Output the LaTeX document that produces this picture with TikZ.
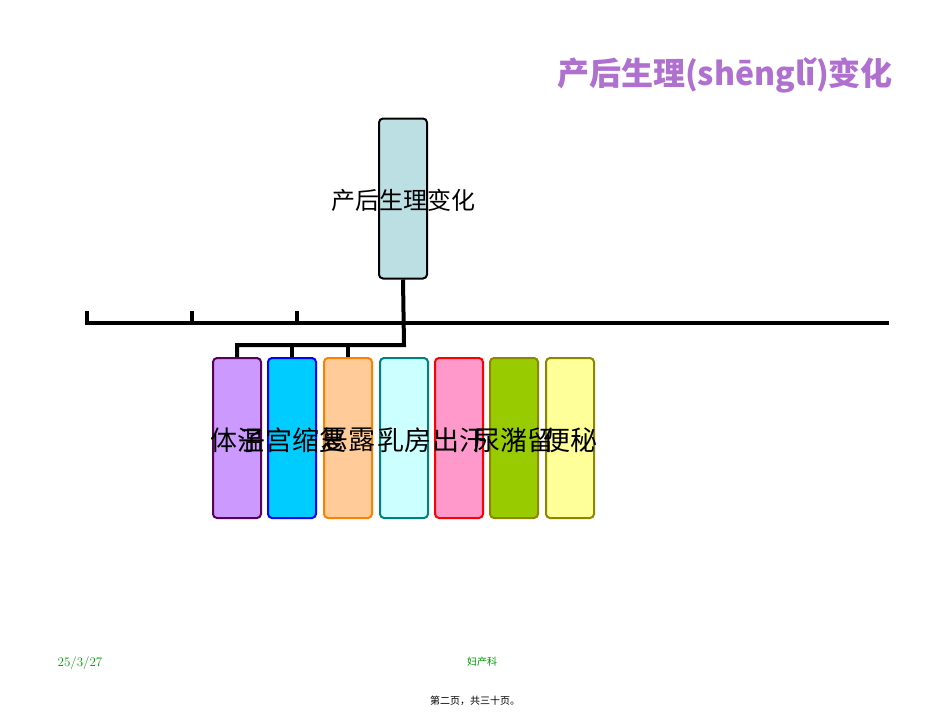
\documentclass[tikz,border=0pt]{standalone}
\usepackage{fontspec}
\newfontfamily\cjk{Noto Sans CJK SC}
\definecolor{topfill}{HTML}{BBDFE3}
\definecolor{cfill}{HTML}{00CCFF}
\definecolor{ffill}{HTML}{99CC00}
\definecolor{afill}{HTML}{CC99FF}
\definecolor{efill}{HTML}{FF99CC}
\definecolor{dfill}{HTML}{CCFFFF}
\definecolor{gfill}{HTML}{FFFF99}
\definecolor{titlec}{HTML}{B070D0}
\begin{document}
\begin{tikzpicture}[x=1pt,y=-1pt,
  bx/.style={draw,line width=2pt,rounded corners=4pt,minimum width=48pt,minimum height=160pt,inner sep=0pt},
  lbl/.style={font=\cjk\fontsize{27}{27}\selectfont,text=black},
  ln/.style={line width=4pt}]
\useasboundingbox (0,0) rectangle (950,713);
\node[font=\cjk\bfseries\fontsize{32}{32}\selectfont,text=titlec,draw=none] (title) at (725,75) {产后生理(shēnglǐ)变化};
\node[bx,fill=topfill,draw=black] (top) at (403,198.5) {};
\node[lbl,font=\cjk\fontsize{24}{24}\selectfont] (toplbl) at (403,200) {产后生理变化};
\coordinate (L) at (85,323); \coordinate (R) at (889,323);
\draw[ln] (L) -- (R);
\foreach \x in {87,192,297} \draw[ln] (\x,325) -- (\x,311);
\foreach \n/\x/\f/\d in {a/237/afill/violet!70!black,b/292/cfill/blue,c/348/orange!40/orange,d/404/dfill/teal,e/459/efill/red,f/514/ffill/olive,g/570/gfill/olive}{
  \node[bx,fill=\f,draw=\d] (\n) at (\x,438) {};
}
\draw[ln] (top.south) -- (404,345) -| (a.north);
\draw[ln] (292,345) -- (b.north);
\draw[ln] (348,345) -- (c.north);
\foreach \n/\x/\t in {a/237/体温,b/292/子宫缩复,c/348/恶露,d/404/乳房,e/459/出汗,f/514/尿潴留,g/570/便秘}
  \node[lbl] (t\n) at (\x,440) {\t};
\node[font=\fontsize{13}{13}\selectfont,text=green!60!black] (date) at (80,663) {25/3/27};
\node[font=\cjk\fontsize{10}{10}\selectfont,text=green!60!black] (dept) at (482,662) {妇产科};
\node[font=\cjk\fontsize{10}{10}\selectfont] (page) at (475,701) {第二页，共三十页。};
\end{tikzpicture}
\end{document}
